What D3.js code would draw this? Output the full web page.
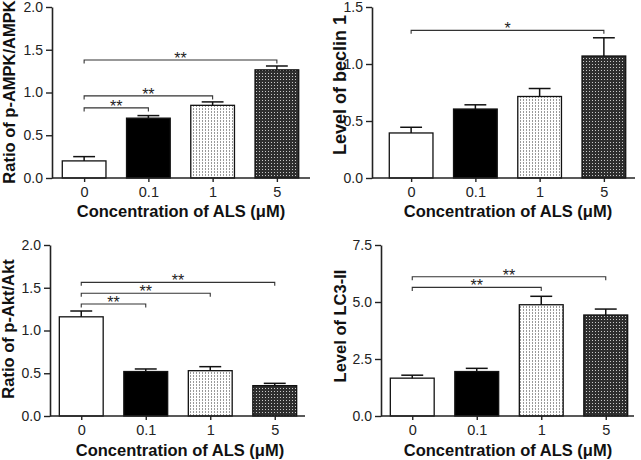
<!DOCTYPE html>
<html><head><meta charset="utf-8">
<script src="https://cdn.jsdelivr.net/npm/d3@7/dist/d3.min.js"></script>
<style>body{margin:0;background:#fff}svg{display:block}text{font-family:"Liberation Sans",Arial,sans-serif}</style>
</head><body><svg id="c" width="641" height="460"></svg>
<script>
const categories = ["0", "0.1", "1", "5"];
const xTitle = "Concentration of ALS (μM)";

const ampkMean = [0.20, 0.70, 0.85, 1.265];
const ampkErr  = [0.05, 0.03, 0.04, 0.045];
const ampkTicks = [0, 0.5, 1.0, 1.5, 2.0];
const ampkSig = [{from: "0", to: "0.1", y: 0.82, label: "**"}, {from: "0", to: "1", y: 0.96, label: "**"}, {from: "0", to: "5", y: 1.38, label: "**"}];

const beclinMean = [0.395, 0.605, 0.715, 1.07];
const beclinErr  = [0.05, 0.037, 0.07, 0.16];
const beclinTicks = [0, 0.5, 1.0, 1.5];
const beclinSig = [{from: "0", to: "5", y: 1.295, label: "*"}];

const aktMean = [1.16, 0.52, 0.53, 0.355];
const aktErr  = [0.068, 0.03, 0.047, 0.027];
const aktTicks = [0, 0.5, 1.0, 1.5, 2.0];
const aktSig = [{from: "0", to: "0.1", y: 1.31, label: "**"}, {from: "0", to: "1", y: 1.435, label: "**"}, {from: "0", to: "5", y: 1.563, label: "**"}];

const lc3Mean = [1.66, 1.95, 4.88, 4.43];
const lc3Err  = [0.13, 0.14, 0.37, 0.26];
const lc3Ticks = [0, 2.5, 5.0, 7.5];
const lc3Sig = [{from: "0", to: "1", y: 5.64, label: "**"}, {from: "0", to: "5", y: 6.11, label: "**"}];

const fills = ["#ffffff", "#000000", "url(#patDots)", "url(#patCheck)"];

const svg = d3.select("#c");
const defs = svg.append("defs");
const p1 = defs.append("pattern").attr("id", "patDots").attr("patternUnits", "userSpaceOnUse").attr("width", 3).attr("height", 3);
p1.append("rect").attr("width", 3).attr("height", 3).attr("fill", "#ffffff");
p1.append("rect").attr("x", 1).attr("y", 0).attr("width", 1).attr("height", 2).attr("fill", "#9a9a9a");
const p2 = defs.append("pattern").attr("id", "patCheck").attr("patternUnits", "userSpaceOnUse").attr("width", 3).attr("height", 3);
p2.append("rect").attr("width", 3).attr("height", 3).attr("fill", "#2e2e2e");
p2.append("rect").attr("x", 1).attr("y", 1).attr("width", 1).attr("height", 1).attr("fill", "#c8c8c8");

const panels = [
  {mean: ampkMean, err: ampkErr, ticks: ampkTicks, sig: ampkSig, max: 2.0, yTitle: "Ratio of p-AMPK/AMPK", yTitleSize: 16.5, yTitleCY: 92,
   axisX: 52, band: [52, 309], axisEnd: 310, top: 7, bottom: 178, yTitleX: 15, xTitleX: 181, xTitleY: 217},
  {mean: beclinMean, err: beclinErr, ticks: beclinTicks, sig: beclinSig, max: 1.5, yTitle: "Level of beclin 1", yTitleSize: 18, yTitleCY: 85,
   axisX: 372, band: [379, 636], axisEnd: 635, top: 7, bottom: 178, yTitleX: 346, xTitleX: 508, xTitleY: 217},
  {mean: aktMean, err: aktErr, ticks: aktTicks, sig: aktSig, max: 2.0, yTitle: "Ratio of p-Akt/Akt", yTitleSize: 16.5, yTitleCY: 329,
   axisX: 50, band: [49, 307], axisEnd: 305, top: 245, bottom: 416, yTitleX: 14, xTitleX: 180, xTitleY: 456},
  {mean: lc3Mean, err: lc3Err, ticks: lc3Ticks, sig: lc3Sig, max: 7.5, yTitle: "Level of LC3-II", yTitleSize: 16.5, yTitleCY: 326,
   axisX: 381, band: [380, 638], axisEnd: 634, top: 245, bottom: 416, yTitleX: 346, xTitleX: 508, xTitleY: 456}
];

panels.forEach(p => {
  const g = svg.append("g");
  const x = d3.scalePoint().domain(categories).range(p.band).padding(0.5);
  const bw = x.step() * 0.68;
  const y = d3.scaleLinear().domain([0, p.max]).range([p.bottom, p.top]);

  // bars
  g.selectAll("rect.bar").data(categories).join("rect").attr("class", "bar")
    .attr("x", d => x(d) - bw / 2).attr("width", bw)
    .attr("y", (d, i) => y(p.mean[i])).attr("height", (d, i) => y(0) - y(p.mean[i]))
    .attr("fill", (d, i) => fills[i]).attr("stroke", "#111").attr("stroke-width", 1.3);

  // error bars (upper)
  const eg = g.selectAll("g.err").data(categories).join("g").attr("class", "err");
  eg.append("line").attr("x1", d => x(d)).attr("x2", d => x(d))
    .attr("y1", (d, i) => y(p.mean[i])).attr("y2", (d, i) => y(p.mean[i] + p.err[i]))
    .attr("stroke", "#111").attr("stroke-width", 1.5);
  eg.append("line").attr("x1", d => x(d) - bw / 4).attr("x2", d => x(d) + bw / 4)
    .attr("y1", (d, i) => y(p.mean[i] + p.err[i])).attr("y2", (d, i) => y(p.mean[i] + p.err[i]))
    .attr("stroke", "#111").attr("stroke-width", 1.5);

  // y axis
  const ya = g.append("g").attr("transform", `translate(${p.axisX},0)`)
    .call(d3.axisLeft(y).tickValues(p.ticks).tickFormat(d3.format(".1f")).tickSize(6).tickPadding(3).tickSizeOuter(0));
  ya.select(".domain").attr("stroke", "#222").attr("stroke-width", 1.6);
  ya.selectAll(".tick line").attr("stroke", "#222").attr("stroke-width", 1.4);
  ya.selectAll(".tick text").attr("font-size", 14).attr("fill", "#222").attr("font-family", "Liberation Sans, Arial, sans-serif");

  // x axis
  const xa = g.append("g").attr("transform", `translate(0,${p.bottom})`)
    .call(d3.axisBottom(x).tickSize(4).tickPadding(5).tickSizeOuter(0));
  xa.select(".domain").attr("d", `M${p.axisX},0H${p.axisEnd}`).attr("stroke", "#222").attr("stroke-width", 1.6);
  xa.selectAll(".tick line").attr("stroke", "#222").attr("stroke-width", 1.4);
  xa.selectAll(".tick text").attr("font-size", 14.5).attr("fill", "#222").attr("font-family", "Liberation Sans, Arial, sans-serif");

  // significance brackets
  const sg = g.selectAll("g.sig").data(p.sig).join("g").attr("class", "sig");
  sg.append("path").attr("d", s => `M${x(s.from)},${y(s.y) + 3.5}V${y(s.y)}H${x(s.to)}V${y(s.y) + 3.5}`)
    .attr("fill", "none").attr("stroke", "#333").attr("stroke-width", 1.1);
  sg.append("text").attr("x", s => (x(s.from) + x(s.to)) / 2).attr("y", s => y(s.y) + 4)
    .attr("text-anchor", "middle").attr("font-size", 16).attr("fill", "#222").text(s => s.label);

  // titles
  g.append("text").attr("x", p.xTitleX).attr("y", p.xTitleY).attr("text-anchor", "middle")
    .attr("font-size", 16.5).attr("font-weight", "bold").attr("fill", "#111").text(xTitle);
  g.append("text").attr("transform", `translate(${p.yTitleX},${p.yTitleCY}) rotate(-90)`)
    .attr("text-anchor", "middle").attr("font-size", p.yTitleSize).attr("font-weight", "bold").attr("fill", "#111").text(p.yTitle);
});
</script></body></html>
